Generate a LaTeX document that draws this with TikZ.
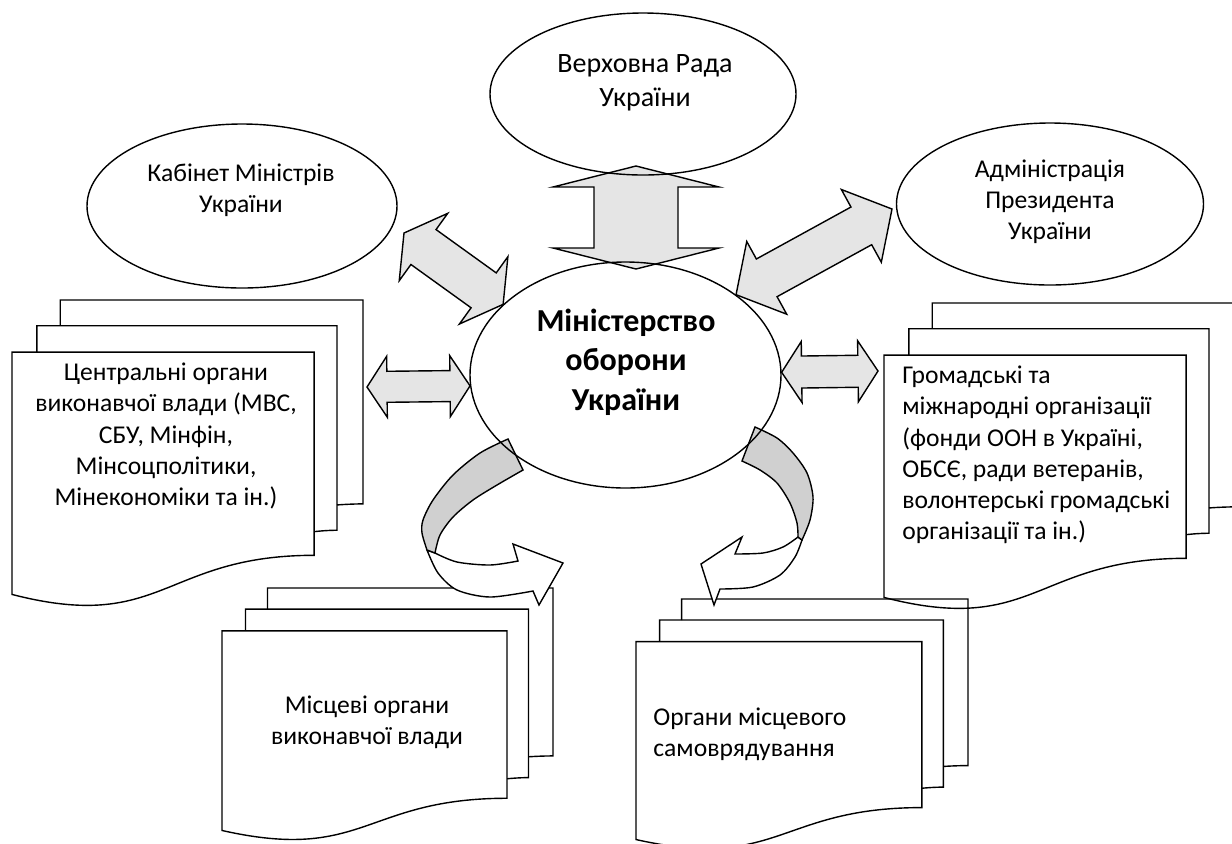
\documentclass[tikz,border=0pt]{standalone}
\usepackage{fontspec}
\setmainfont{Carlito}
\usetikzlibrary{calc,shapes.geometric,backgrounds}

% stack of three pages, origin in px, width and height in px
\newcommand\multidoc[3]{%
  \begin{scope}[shift={#1}, xscale=#2, yscale=#3]
    \draw[page] (0.13759,0.08403) -- (0.13759,0) -- (1,0) -- (1,0.66630)
      .. controls (0.96296,0.66630) and (0.92593,0.66977) .. (0.92593,0.66977);
    \draw[page] (0.07093,0.17014) -- (0.07093,0.08403) -- (0.92593,0.08403) -- (0.92593,0.75241)
      .. controls (0.89343,0.75241) and (0.86088,0.75704) .. (0.86088,0.75704);
    \draw[page, fill=white] (0,0.96213) .. controls (0.43046,1.08991) and (0.43046,0.83435) .. (0.86088,0.83435)
      -- (0.86088,0.17014) -- (0,0.17014) -- cycle;
  \end{scope}}

% double block arrow: tips #1 and #2, shaft half width, head half width, head length
\newcommand\blockarrow[5]{%
  \path ($(#1)!#5!(#2)$) coordinate (ha) ($(#2)!#5!(#1)$) coordinate (hb);
  \draw[barrow] (#1) -- ($(ha)!#4!90:(#2)$) -- ($(ha)!#3!90:(#2)$)
    -- ($(hb)!#3!-90:(#1)$) -- ($(hb)!#4!-90:(#1)$) -- (#2)
    -- ($(hb)!#4!90:(#1)$) -- ($(hb)!#3!90:(#1)$)
    -- ($(ha)!#3!-90:(#2)$) -- ($(ha)!#4!-90:(#2)$) -- cycle;}

\begin{document}
\begin{tikzpicture}[x=0.5pt, y=-0.5pt,
org/.style={ellipse, draw, line width=0.7pt, inner sep=0pt},
orgtext/.style={align=center, inner sep=0pt, font=\fontsize{12.8}{15.6}\selectfont},
doctext/.style={align=left, anchor=west, inner sep=0pt, font=\fontsize{12.8}{15.6}\selectfont},
page/.style={draw, line width=0.7pt},
barrow/.style={draw, fill=gray!20, line width=0.7pt},
band/.style={draw, fill=gray!37, line width=0.7pt},
backband/.style={draw, fill=white, line width=0.7pt},
]
\useasboundingbox (0,0) rectangle (1232,843);

%Nodes
\node[org, minimum width=153pt, minimum height=81pt]    (vr)   at (643,94)    {};
\node[org, minimum width=155pt, minimum height=82pt]    (kmu)  at (242,206)   {};
\node[org, minimum width=153.5pt, minimum height=81pt]  (ap)   at (1050,204)  {};
\node[org, minimum width=155.5pt, minimum height=113pt] (mou)  at (625.5,375) {};

\node[orgtext, font=\fontsize{14}{17}\selectfont] (vrtext) at (645,83) {Верховна Рада\\України};
\node[orgtext] (kmutext) at (241,190)  {Кабінет Міністрів\\України};
\node[orgtext] (aptext)  at (1050,202) {Адміністрація\\Президента\\України};
\node[orgtext, font=\fontsize{16}{19.75}\selectfont\bfseries] (moutext) at (626,362) {Міністерство\\оборони\\України};
\node[orgtext] (cvotext) at (166,436)  {Центральні органи\\виконавчої влади (МВС,\\СБУ, Мінфін,\\Мінсоцполітики,\\Мінекономіки та ін.)};
\node[doctext] (gromtext) at (902,455) {Громадські та\\міжнародні організації\\(фонди ООН в Україні,\\ОБСЄ, ради ветеранів,\\волонтерські громадські\\організації та ін.)};
\node[orgtext] (mvotext) at (367,722)  {Місцеві органи\\виконавчої влади};
\node[doctext] (omstext) at (653,734)  {Органи місцевого\\самоврядування};

\coordinate (vrend)   at (636,166);
\coordinate (mouend)  at (636,269);
\coordinate (kmuend)  at (404,233);
\coordinate (apend)   at (892,209);
\coordinate (cvoend)  at (367,387);
\coordinate (gromend) at (878,371);

\begin{scope}[on background layer]
%Documents
\multidoc{(12,300)}{351}{306}
\multidoc{(884,303)}{351}{306}
\multidoc{(222,588)}{331}{252}
\multidoc{(636,599)}{332}{250}

%Arrows
\blockarrow{vrend}{mouend}{21pt}{41.5pt}{10.5pt}
\blockarrow{kmuend}{mou.150}{10.75pt}{20.75pt}{12pt}
\blockarrow{apend}{mou.36}{10.75pt}{20.75pt}{17.5pt}
\blockarrow{cvoend}{mou.184}{7.75pt}{15.25pt}{10pt}
\blockarrow{mou.1}{gromend}{8pt}{15.25pt}{10pt}

% twisted arrows
\draw[backband] plot[smooth] coordinates {(435,553) (457,562) (490,565) (518,561)} -- (513,544) -- (563,563) -- (539,605) -- (533,591)
  -- plot[smooth] coordinates {(533,591) (490,597) (457,590) (438,573) (427,550)} -- cycle;
\draw[band] plot[smooth] coordinates {(508,439) (480,453) (453,475) (433,500) (423,520) (422,533) (427,550)}
  -- plot[smooth] coordinates {(435,553) (440,535) (453,517) (473,500) (497,485) (523,470)} -- cycle;
\draw[backband] plot[smooth] coordinates {(798,537) (783,547) (763,553) (735,554)} -- (742,537) -- (701,564) -- (714,605) -- (720,589)
  -- plot[smooth] coordinates {(720,589) (753,587) (780,575) (795,557) (802,540)} -- cycle;
\draw[band] plot[smooth] coordinates {(755,427) (777,438) (793,453) (807,473) (813,497) (810,520) (802,540)}
  -- plot[smooth] coordinates {(798,537) (797,523) (790,503) (777,483) (760,470) (742,461)} -- cycle;
\end{scope}

\end{tikzpicture}
\end{document}
